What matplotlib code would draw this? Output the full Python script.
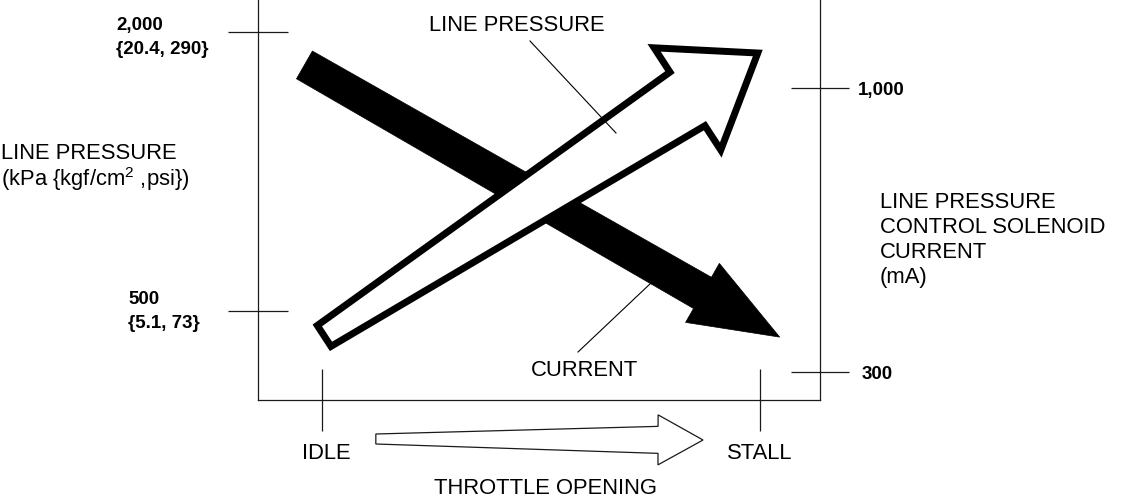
import numpy as np
import matplotlib
matplotlib.use("Agg")
import matplotlib.pyplot as plt
from matplotlib.patches import Polygon

plt.rcParams['font.family'] = ['Liberation Sans', 'DejaVu Sans']
plt.rcParams['mathtext.fontset'] = 'custom'
plt.rcParams['mathtext.rm'] = 'Liberation Sans'
plt.rcParams['mathtext.it'] = 'Liberation Sans:italic'
plt.rcParams['mathtext.bf'] = 'Liberation Sans:bold'

# ---------------- data ----------------
throttle_labels = ['IDLE', 'STALL']
throttle_pos = [0.0, 1.0]
pressure_ticks = [2000, 500]
pressure_tick_labels = ['2,000', '500']
pressure_sub_labels = ['{20.4, 290}', '{5.1, 73}']
current_ticks = [1000, 300]
current_tick_labels = ['1,000', '300']
# trend arrows (throttle position, value)
pressure_arrow_x = [0.005, 0.995]
pressure_arrow_kpa = [366, 1887]
current_arrow_x = [-0.04, 1.045]
current_arrow_ma = [1057, 386]

# ---------------- layout ----------------
W, H = 1124, 499
fig = plt.figure(figsize=(W / 100, H / 100), dpi=100)
ax = fig.add_axes([258 / W, (H - 400) / H, (820 - 258) / W, 400 / H])
ax.set_xlim(-0.146, 1.137)
ax.set_ylim(21.5, 2172)
ax2 = ax.twinx()
ax2.set_ylim(231, 1217)

LC = '#1a1a1a'
for s in ['top', 'right']:
    ax.spines[s].set_visible(False)
for s in ['top', 'left', 'bottom']:
    ax2.spines[s].set_visible(False)
for sp in [ax.spines['left'], ax.spines['bottom'], ax2.spines['right']]:
    sp.set_linewidth(0.9)
    sp.set_color(LC)

ax.set_yticks(pressure_ticks)
ax.set_xticks(throttle_pos)
ax2.set_yticks(current_ticks)
ax.tick_params(axis='y', direction='inout', length=43, width=0.9, color=LC,
               labelleft=False)
ax.tick_params(axis='x', direction='inout', length=45, width=0.9, color=LC,
               labelbottom=False)
ax2.tick_params(axis='y', direction='inout', length=42, width=0.9, color=LC,
                labelright=False)

ov = fig.add_axes([0, 0, 1, 1])
ov.set_zorder(10)
ov.set_xlim(0, W)
ov.set_ylim(H, 0)
ov.axis('off')
ov.patch.set_visible(False)


def to_px(a, x, y):
    d = a.transData.transform((x, y))
    return ov.transData.inverted().transform(d)


def arrow_poly(p0, p1, w_tail, w_neck, w_barb, head_len):
    p0 = np.asarray(p0, float)
    p1 = np.asarray(p1, float)
    d = p1 - p0
    u = d / np.hypot(*d)
    n = np.array([-u[1], u[0]])
    neck = p1 - u * head_len
    return np.array([p0 + n * w_tail, neck + n * w_neck, neck + n * w_barb, p1,
                     neck - n * w_barb, neck - n * w_neck, p0 - n * w_tail])


FS = 15.8
FB = 13.5
CAP = 0.716


def txt(x, yc, s, size=FS, bold=False, ha='left'):
    px = size * 100 / 72
    ov.text(x, yc + CAP * px / 2, s, fontsize=size,
            fontweight='bold' if bold else 'normal', ha=ha, va='baseline',
            color='black', zorder=20)


# current arrow (black)
c0 = to_px(ax2, current_arrow_x[0], current_arrow_ma[0])
c1 = to_px(ax2, current_arrow_x[1], current_arrow_ma[1])
ov.add_patch(Polygon(arrow_poly(c0, c1, 16, 18, 34, 89), closed=True,
                     facecolor='black', edgecolor='black', lw=0.5, zorder=3))

# line pressure arrow (white with black outline)
p0 = to_px(ax, pressure_arrow_x[0], pressure_arrow_kpa[0])
p1 = to_px(ax, pressure_arrow_x[1], pressure_arrow_kpa[1])
ov.add_patch(Polygon(arrow_poly(p0, p1, 12.5, 32, 61, 84), closed=True,
                     facecolor='white', edgecolor='black', lw=5.0,
                     joinstyle='miter', zorder=4))

# throttle opening arrow
t0 = to_px(ax, 0.123, 0)[0]
t1 = to_px(ax, 0.870, 0)[0]
ov.add_patch(Polygon(arrow_poly((t0, 439), (t1, 440), 5, 13.5, 25, 45),
                     closed=True, facecolor='white', edgecolor=LC, lw=0.9,
                     joinstyle='miter', zorder=4))

# leader lines
ov.plot([530, 616], [41, 133], color='black', lw=0.8, zorder=6)
ov.plot([578, 651], [352, 283], color='black', lw=0.8, zorder=6)

# pressure tick labels
p_offsets = [(116, -9, 15), (128, -14, 10)]
for v, lab, sub, (xo, d1, d2) in zip(pressure_ticks, pressure_tick_labels,
                                     pressure_sub_labels, p_offsets):
    y = to_px(ax, 0, v)[1]
    txt(xo, y + d1, lab, FB, True)
    txt(xo, y + d2, sub, FB, True)

# current tick labels
c_x = [858, 862]
for v, lab, xo in zip(current_ticks, current_tick_labels, c_x):
    y = to_px(ax2, 0, v)[1]
    txt(xo, y, lab, FB, True)

# throttle labels
for xp, lab, dx in zip(throttle_pos, throttle_labels, [4, 0]):
    x = to_px(ax, xp, 0)[0]
    txt(x + dx, 451, lab, ha='center')
txt(545, 486, 'THROTTLE OPENING', ha='center')

# axis titles
txt(1, 151, 'LINE PRESSURE')
txt(1, 178, r'(kPa {kgf/cm$^{2}$ ,psi})')
for i, line in enumerate(['LINE PRESSURE', 'CONTROL SOLENOID', 'CURRENT', '(mA)']):
    txt(880, 200.5 + 24.9 * i, line)

txt(517, 23, 'LINE PRESSURE', ha='center')
txt(585, 368.5, 'CURRENT', ha='center')

fig.savefig('out.png', dpi=100, facecolor='white')
